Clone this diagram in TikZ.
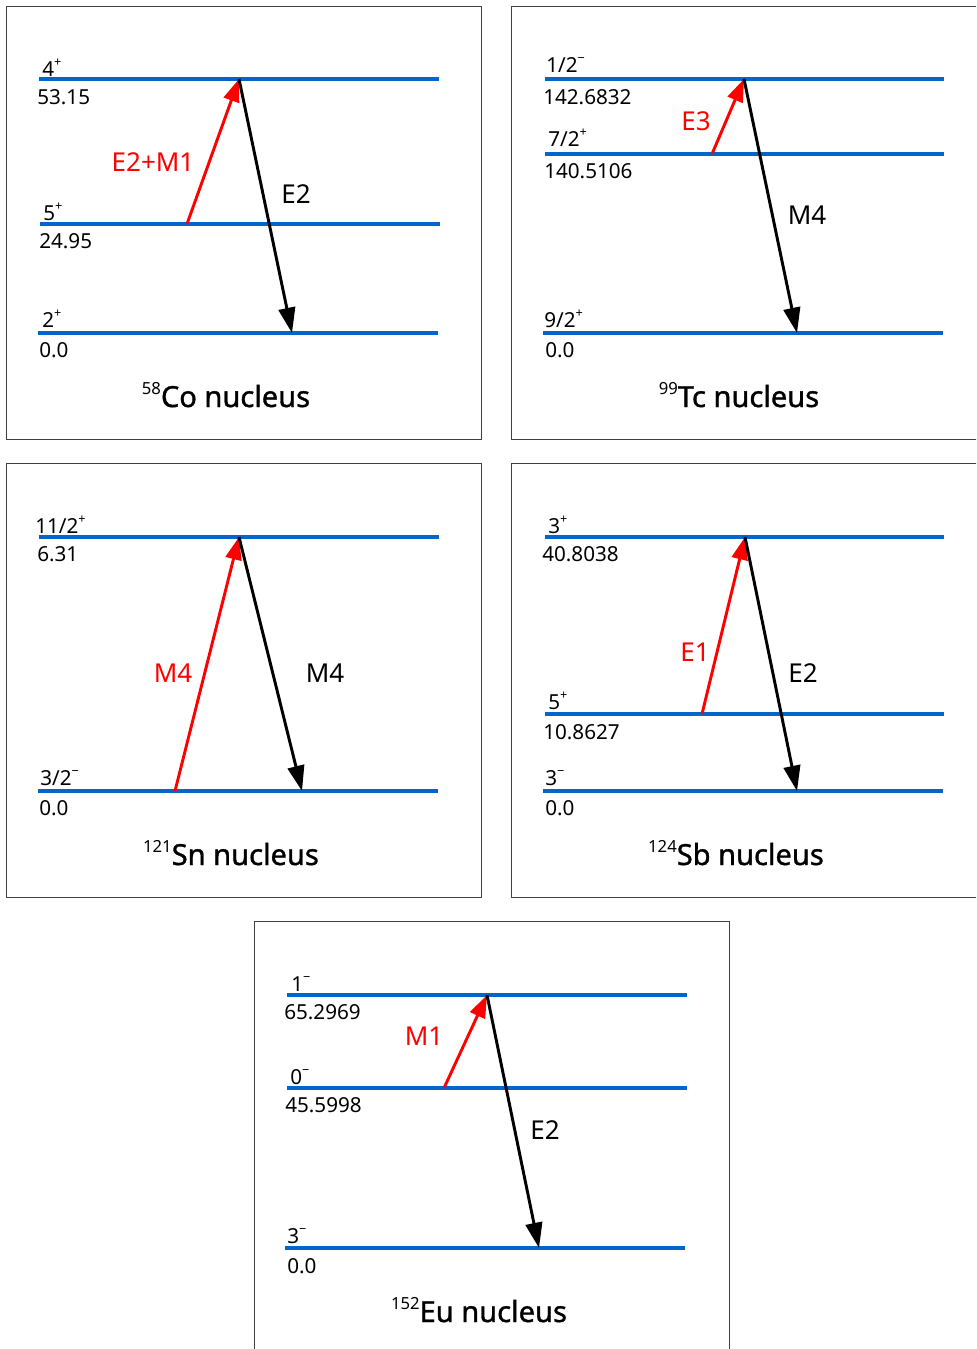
\documentclass[tikz,border=0pt]{standalone}
\usepackage{fontspec}
\setmainfont{Noto Sans}
\newfontfamily\titlefont[FakeBold=1.2]{Noto Sans}
\newfontfamily\supfont{Noto Sans}
\usetikzlibrary{arrows.meta}
\definecolor{lvl}{RGB}{0,102,204}
\definecolor{frm}{RGB}{64,64,64}
\newcommand\spn[1]{\raisebox{0.48em}{\fontsize{9.5pt}{9.5pt}\selectfont #1}}
\newcommand\tsup[1]{\raisebox{0.42em}{\supfont\fontsize{12.5pt}{12.5pt}\selectfont #1}}
\begin{document}
\begin{tikzpicture}[x=0.75pt,y=-0.75pt,
 level/.style={draw=lvl,line width=3pt},
 frame/.style={draw=frm,line width=0.75pt},
 up/.style={draw=red,line width=2.2pt,-{Triangle[length=17pt,width=12pt]}},
 down/.style={draw=black,line width=2.2pt,-{Triangle[length=19pt,width=12.5pt]}},
 lbl/.style={anchor=base west,inner sep=0pt,font=\fontsize{15.5pt}{18pt}\selectfont},
 tr/.style={inner sep=0pt,font=\fontsize{19.5pt}{22pt}\selectfont},
 ttl/.style={anchor=base,inner sep=0pt,font=\titlefont\fontsize{21.8pt}{24pt}\selectfont}]
\useasboundingbox (0,0) rectangle (976,1349);
\clip (0,0) rectangle (976,1349);

% ---------- Panel 1: 58Co ----------
\draw[frame] (6,6) rectangle (481,439);
\coordinate (coAL) at (39,79);  \coordinate (coAR) at (439,79);
\coordinate (coBL) at (40,224); \coordinate (coBR) at (440,224);
\coordinate (coCL) at (38,333); \coordinate (coCR) at (438,333);
\draw[level] (coAL) -- (coAR);
\draw[level] (coBL) -- (coBR);
\draw[level] (coCL) -- (coCR);
\node[lbl] (coA1) at (42,76) {4\spn{+}};
\node[lbl] (coA2) at (37,104) {53.15};
\node[lbl] (coB1) at (43,220) {5\spn{+}};
\node[lbl] (coB2) at (39,248) {24.95};
\node[lbl] (coC1) at (42,327) {2\spn{+}};
\node[lbl] (coC2) at (39,357) {0.0};
\coordinate (coUs) at (187,224); \coordinate (coTop) at (239,79); \coordinate (coDe) at (292,333);
\draw[up] (coUs) -- (coTop);
\draw[down] (coTop) -- (coDe);
\node[tr,text=red] (coT1) at (153,162) {E2+M1};
\node[tr] (coT2) at (296,194) {E2};
\node[ttl] (coTitle) at (226,407) {\tsup{58}Co nucleus};

% ---------- Panel 2: 99Tc ----------
\draw[frame] (511,6) rectangle (986,439);
\coordinate (tcAL) at (545,79);  \coordinate (tcAR) at (944,79);
\coordinate (tcBL) at (545,154); \coordinate (tcBR) at (944,154);
\coordinate (tcCL) at (543,333); \coordinate (tcCR) at (943,333);
\draw[level] (tcAL) -- (tcAR);
\draw[level] (tcBL) -- (tcBR);
\draw[level] (tcCL) -- (tcCR);
\node[lbl] (tcA1) at (546,72) {1/2\spn{−}};
\node[lbl] (tcA2) at (543,104) {142.6832};
\node[lbl] (tcB1) at (548,146) {7/2\spn{+}};
\node[lbl] (tcB2) at (544,178) {140.5106};
\node[lbl] (tcC1) at (544,327) {9/2\spn{+}};
\node[lbl] (tcC2) at (545,357) {0.0};
\coordinate (tcUs) at (712,154); \coordinate (tcTop) at (744,79); \coordinate (tcDe) at (797,333);
\draw[up] (tcUs) -- (tcTop);
\draw[down] (tcTop) -- (tcDe);
\node[tr,text=red] (tcT1) at (696,121) {E3};
\node[tr] (tcT2) at (807,215) {M4};
\node[ttl] (tcTitle) at (739,407) {\tsup{99}Tc nucleus};

% ---------- Panel 3: 121Sn ----------
\draw[frame] (6,463) rectangle (481,897);
\coordinate (snAL) at (39,537);  \coordinate (snAR) at (439,537);
\coordinate (snCL) at (38,791);  \coordinate (snCR) at (438,791);
\draw[level] (snAL) -- (snAR);
\draw[level] (snCL) -- (snCR);
\node[lbl] (snA1) at (35,533) {11/2\spn{+}};
\node[lbl] (snA2) at (37,561) {6.31};
\node[lbl] (snC1) at (40,785) {3/2\spn{−}};
\node[lbl] (snC2) at (39,815) {0.0};
\coordinate (snUs) at (175,791); \coordinate (snTop) at (239,537); \coordinate (snDe) at (302,791);
\draw[up] (snUs) -- (snTop);
\draw[down] (snTop) -- (snDe);
\node[tr,text=red] (snT1) at (173,673) {M4};
\node[tr] (snT2) at (325,673) {M4};
\node[ttl] (snTitle) at (231,865) {\tsup{121}Sn nucleus};

% ---------- Panel 4: 124Sb ----------
\draw[frame] (511,463) rectangle (986,897);
\coordinate (sbAL) at (545,537);  \coordinate (sbAR) at (944,537);
\coordinate (sbBL) at (545,714);  \coordinate (sbBR) at (944,714);
\coordinate (sbCL) at (543,791);  \coordinate (sbCR) at (943,791);
\draw[level] (sbAL) -- (sbAR);
\draw[level] (sbBL) -- (sbBR);
\draw[level] (sbCL) -- (sbCR);
\node[lbl] (sbA1) at (548,533) {3\spn{+}};
\node[lbl] (sbA2) at (542,561) {40.8038};
\node[lbl] (sbB1) at (548,709) {5\spn{+}};
\node[lbl] (sbB2) at (543,739) {10.8627};
\node[lbl] (sbC1) at (545,785) {3\spn{−}};
\node[lbl] (sbC2) at (545,815) {0.0};
\coordinate (sbUs) at (702,714); \coordinate (sbTop) at (745,537); \coordinate (sbDe) at (797,791);
\draw[up] (sbUs) -- (sbTop);
\draw[down] (sbTop) -- (sbDe);
\node[tr,text=red] (sbT1) at (695,652) {E1};
\node[tr] (sbT2) at (803,673) {E2};
\node[ttl] (sbTitle) at (736,865) {\tsup{124}Sb nucleus};

% ---------- Panel 5: 152Eu ----------
\draw[frame] (254,921) rectangle (729,1360);
\coordinate (euAL) at (287,995);   \coordinate (euAR) at (687,995);
\coordinate (euBL) at (287,1088);  \coordinate (euBR) at (687,1088);
\coordinate (euCL) at (285,1248);  \coordinate (euCR) at (685,1248);
\draw[level] (euAL) -- (euAR);
\draw[level] (euBL) -- (euBR);
\draw[level] (euCL) -- (euCR);
\node[lbl] (euA1) at (291,991) {1\spn{−}};
\node[lbl] (euA2) at (284,1019) {65.2969};
\node[lbl] (euB1) at (290,1084) {0\spn{−}};
\node[lbl] (euB2) at (285,1112) {45.5998};
\node[lbl] (euC1) at (287,1243) {3\spn{−}};
\node[lbl] (euC2) at (287,1273) {0.0};
\coordinate (euUs) at (444,1088); \coordinate (euTop) at (487,995); \coordinate (euDe) at (539,1248);
\draw[up] (euUs) -- (euTop);
\draw[down] (euTop) -- (euDe);
\node[tr,text=red] (euT1) at (424,1036) {M1};
\node[tr] (euT2) at (545,1130) {E2};
\node[ttl] (euTitle) at (479,1322) {\tsup{152}Eu nucleus};
\end{tikzpicture}
\end{document}
